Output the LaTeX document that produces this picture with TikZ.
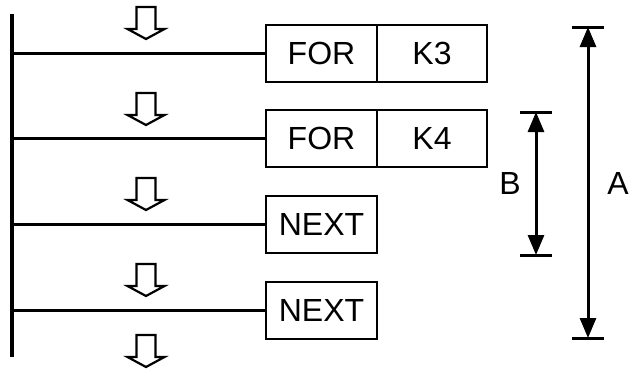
\documentclass[tikz,border=0pt]{standalone}
\usepackage{fontspec}
\setmainfont{Liberation Sans}
\usetikzlibrary{arrows.meta,positioning}
\tikzset{
  instbox/.style={draw, line width=2pt, outer sep=0pt, inner sep=0pt,
    minimum height=57pt, font=\fontsize{32}{38}\selectfont},
  rung/.style={line width=3pt},
  hollow/.style={line width=2.2pt, fill=white, line join=miter},
  dimtick/.style={line width=3pt},
  dimline/.style={line width=3pt,
    {Triangle[length=20pt,width=16pt]}-{Triangle[length=20pt,width=16pt]}},
  dimlabel/.style={font=\fontsize{32}{38}\selectfont, inner sep=0pt}
}
\begin{document}
\begin{tikzpicture}[x=1pt,y=-1pt]
    \useasboundingbox (0,0) rectangle (630,372);

    % Left rail
    \coordinate (railtop) at (11.5,14);
    \coordinate (railbot) at (11.5,357);
    \draw[line width=4pt] (railtop) -- (railbot);

    % Instructions
    \node[instbox, minimum width=111pt, anchor=west] (for1) at (266,53.5) {FOR};
    \node[instbox, minimum width=110pt, right=0pt of for1] (k3) {K3};
    \node[instbox, minimum width=111pt, anchor=west] (for2) at (266,138) {FOR};
    \node[instbox, minimum width=110pt, right=0pt of for2] (k4) {K4};
    \node[instbox, minimum width=111pt, anchor=west] (next1) at (266,224.5) {NEXT};
    \node[instbox, minimum width=111pt, anchor=west] (next2) at (266,310.5) {NEXT};

    % Rungs
    \foreach \n in {for1,for2,next1,next2}
        \draw[rung] (railtop |- \n.west) -- (\n.west);

    % Hollow flow arrows
    \foreach \t in {7,93,178,264,335}
        \draw[hollow] (136.5,\t) -- (155.5,\t) -- (155.5,\t+22) -- (164.5,\t+22)
            -- (146,\t+32) -- (127.5,\t+22) -- (136.5,\t+22) -- cycle;

    % Span B
    \coordinate (btop) at (536,112);
    \coordinate (bbot) at (536,255);
    \draw[dimtick] ([xshift=-16pt]btop) -- ([xshift=16pt]btop);
    \draw[dimtick] ([xshift=-16pt]bbot) -- ([xshift=16pt]bbot);
    \draw[dimline] (btop) -- (bbot);
    \node[dimlabel] (labB) at (510,183) {B};

    % Span A
    \coordinate (atop) at (588,27);
    \coordinate (abot) at (588,338);
    \draw[dimtick] ([xshift=-16pt]atop) -- ([xshift=16pt]atop);
    \draw[dimtick] ([xshift=-16pt]abot) -- ([xshift=16pt]abot);
    \draw[dimline] (atop) -- (abot);
    \node[dimlabel] (labA) at (618,183) {A};
\end{tikzpicture}
\end{document}
